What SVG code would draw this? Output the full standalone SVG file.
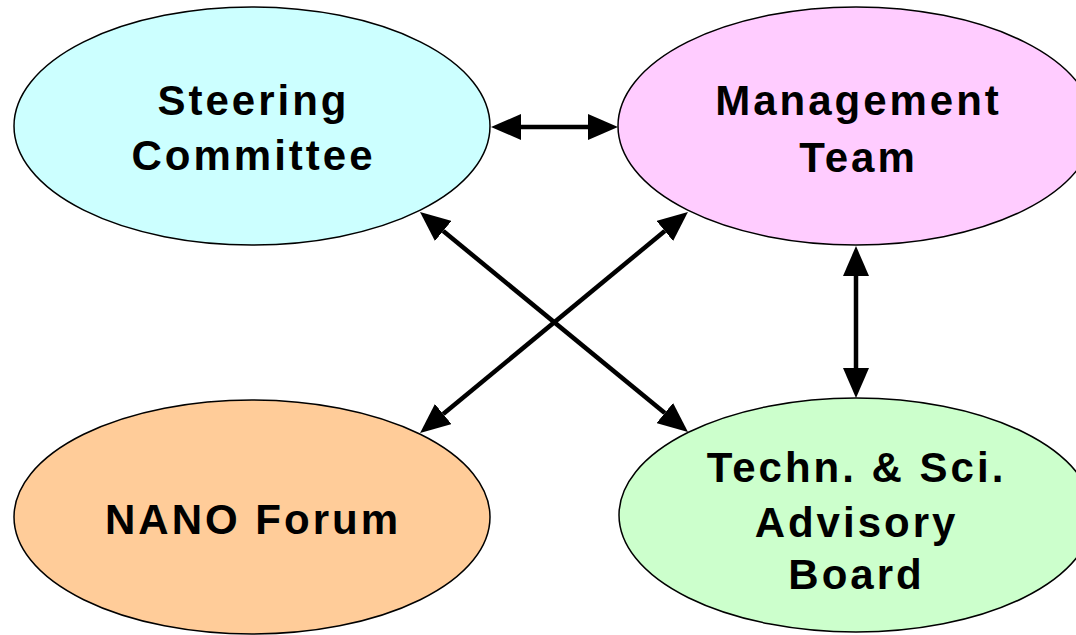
<svg xmlns="http://www.w3.org/2000/svg" width="1076" height="635" viewBox="0 0 1076 635">
<style>
.node{stroke:#000;stroke-width:1.5}
.lbl{font-family:"Liberation Sans",Arial,sans-serif;font-weight:bold;font-size:42px;letter-spacing:3px;text-anchor:middle;fill:#000}
.conn{stroke:#000;stroke-width:4.5;fill:none;marker-start:url(#ah);marker-end:url(#ah)}
</style>
<defs>
<marker id="ah" markerUnits="userSpaceOnUse" markerWidth="30" markerHeight="26" refX="0" refY="13" orient="auto-start-reverse" viewBox="0 0 30 26">
<path d="M0,0 L30,13 L0,26 z" fill="#000"/>
</marker>
</defs>
<rect width="1076" height="635" fill="#fff"/>
<g id="steering">
<ellipse class="node" cx="252" cy="126" rx="238" ry="119" fill="#CCFFFF"/>
<text class="lbl" x="253.5" y="115">Steering</text>
<text class="lbl" x="253.5" y="170">Committee</text>
</g>
<g id="management">
<ellipse class="node" cx="856" cy="126" rx="238" ry="119" fill="#FFCCFF"/>
<text class="lbl" x="858.5" y="115">Management</text>
<text class="lbl" x="858.5" y="172">Team</text>
</g>
<g id="nano">
<ellipse class="node" cx="252" cy="517" rx="238" ry="117" fill="#FFCC99"/>
<text class="lbl" x="253" y="534">NANO Forum</text>
</g>
<g id="advisory">
<ellipse class="node" cx="856" cy="515" rx="237" ry="117" fill="#CCFFCC"/>
<text class="lbl" x="856.5" y="482">Techn. &amp; Sci.</text>
<text class="lbl" x="856.5" y="537">Advisory</text>
<text class="lbl" x="856.5" y="589">Board</text>
</g>
<g id="connectors">
<line class="conn" x1="521" y1="127" x2="588" y2="127"/>
<line class="conn" x1="856" y1="276" x2="856" y2="368"/>
<line class="conn" x1="443.2" y1="231" x2="664.8" y2="413"/>
<line class="conn" x1="664.8" y1="231" x2="443.2" y2="414"/>
</g>
</svg>
